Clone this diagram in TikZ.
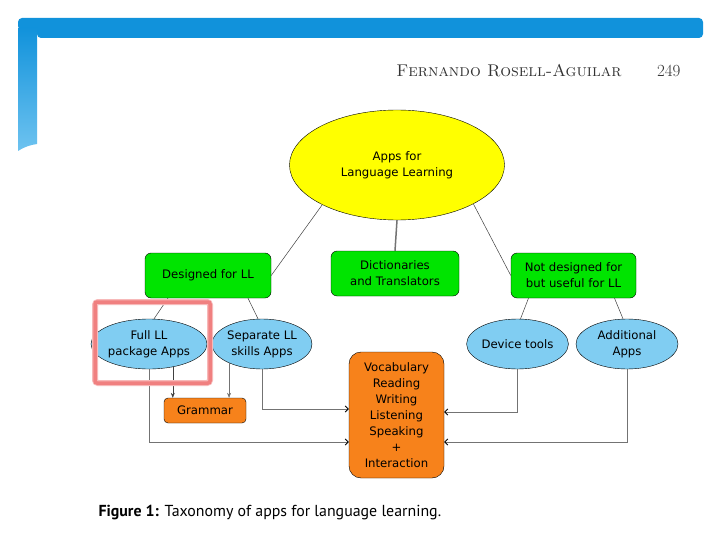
\documentclass[tikz,border=0pt]{standalone}
\usepackage{fontspec}
\setsansfont{DejaVu Sans}
\newfontfamily\capfont{PT Sans}
\usepackage{tikz}
\usetikzlibrary{arrows.meta, shapes.geometric, positioning, calc}
\tikzset{every node/.style={font=\sffamily}}
\usepackage{xcolor}
\definecolor{framebl}{HTML}{1192DB}
\definecolor{framelt}{HTML}{6EC3F0}
\definecolor{rootyel}{HTML}{FFFF00}
\definecolor{catgreen}{HTML}{00E400}
\definecolor{appblue}{HTML}{80CDF2}
\definecolor{skillorange}{HTML}{F7821B}
\definecolor{hlred}{HTML}{F08080}

\begin{document}
\begin{tikzpicture}[
        x=1pt, y=-1pt,
        >={Stealth[length=5pt, width=4pt]},
        txt/.style={font=\sffamily\fontsize{11.7}{16}\selectfont, align=center, inner sep=0pt},
        root/.style={txt, ellipse, draw, fill=rootyel, minimum width=215, minimum height=110},
        catbox/.style={txt, rectangle, rounded corners=6pt, draw, fill=catgreen, minimum width=126, minimum height=45},
        appell/.style={txt, ellipse, draw, fill=appblue, minimum width=102, minimum height=50},
        skillbox/.style={txt, rectangle, rounded corners=5pt, draw, fill=skillorange},
        link/.style={draw=black!75, line width=0.5pt},
        feed/.style={draw=black!55, line width=0.6pt, -{Straight Barb[length=3pt, width=6pt, line width=0.9pt, black]}},
      ]
        % page and slide frame
        \fill[white] (0,0) rectangle (720,540);
        \fill[framebl, rounded corners=4pt] (18,18) -- (703,18) -- (703,38) -- (37,38) -- (37,30) -- (18,30) -- cycle;
        \shade[top color=framebl, bottom color=framelt] (18,28) -- (37,28) -- (37,144) .. controls (30,145) and (24,147) .. (18,151) -- cycle;
        \node[anchor=base east, font=\rmfamily\fontsize{17}{17}\selectfont, text=black!80] (author) at (625,77) {\textsc{Fernando Rosell-Aguilar}};
        \node[anchor=base east, font=\rmfamily\fontsize{17}{17}\selectfont, text=black!80] (page) at (684,77) {249};

        % taxonomy
        \node[root] (apps) at (397,165) {Apps for\\Language Learning};
        \node[catbox] (designed) at (208,275.5) {Designed for LL};
        \node[catbox, minimum width=128] (dict) at (395,273.5) {Dictionaries\\and Translators};
        \node[catbox, minimum width=125] (notdes) at (573.5,275.5) {Not designed for\\but useful for LL};
        \node[appell] (fullapp) at (149,344) {Full LL\\package Apps};
        \node[appell, minimum width=100] (sepapp) at (262,344) {Separate LL\\skills Apps};
        \node[appell, minimum width=101] (devapp) at (517.5,344) {Device tools};
        \node[appell] (addapp) at (627,344) {Additional\\Apps};
        \node[skillbox, minimum width=82, minimum height=25, rounded corners=4pt] (grammar) at (205,410.5) {Grammar};
        \node[skillbox, minimum width=95, minimum height=126, rounded corners=12pt] (skills) at (396.5,415) {Vocabulary\\Reading\\Writing\\Listening\\Speaking\\+\\Interaction};

        \draw[link] (apps.208) -- (designed.east);
        \draw[link] (apps.333) -- (notdes.west);
        \draw[draw=black!55, line width=1.5pt] (apps.south) -- (dict.north);
        \draw[link] ([xshift=-40pt]designed.south) -- ([xshift=5pt]fullapp.north);
        \draw[link] ([xshift=40pt]designed.south) -- ([xshift=-4pt]sepapp.north);
        \draw[link] ([xshift=-45pt]notdes.south) -- ([xshift=3pt]devapp.north);
        \draw[link] ([xshift=41pt]notdes.south) -- ([xshift=-4pt]addapp.north);

        \draw[->, draw=black!75, line width=0.5pt] (fullapp.316) -- (fullapp.316 |- grammar.north);
        \draw[->, draw=black!55, line width=0.5pt] (sepapp.210) -- (sepapp.210 |- grammar.north);
        \draw[feed] (sepapp.south) |- ([yshift=6pt]skills.west);
        \draw[feed] (fullapp.south) |- ([yshift=-27pt]skills.west);
        \draw[feed] (devapp.south) |- ([yshift=3pt]skills.east);
        \draw[feed] (addapp.south) |- ([yshift=-27pt]skills.east);

        % highlight
        \draw[hlred!55, line width=6pt, rounded corners=3pt] (95,302) rectangle (210,383);
        \draw[hlred, line width=3.5pt, rounded corners=2pt] (95,302) rectangle (210,383);

        \node[anchor=base west, font=\capfont\fontsize{15.9}{17}\selectfont] (caption) at (95,516) {\textbf{Figure 1:} Taxonomy of apps for language learning.};
      \end{tikzpicture}
\end{document}
